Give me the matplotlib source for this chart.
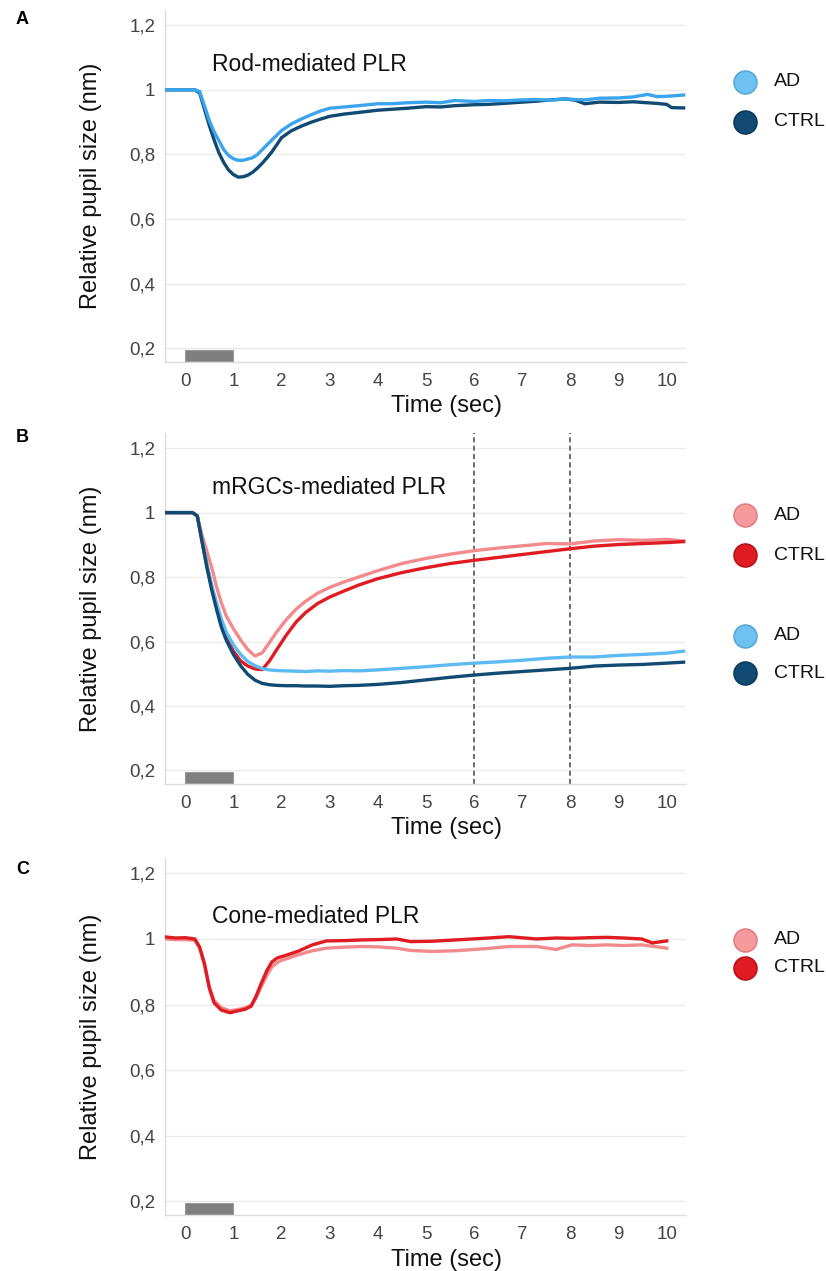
import matplotlib
matplotlib.use("Agg")
import matplotlib.pyplot as plt
from matplotlib.lines import Line2D
from matplotlib.patches import Rectangle

plt.rcParams['font.family'] = ['Liberation Sans', 'DejaVu Sans']

# ---- data ----
# panel A : rod-mediated PLR
t_rod = [-0.4, -0.2, 0.0, 0.2, 0.3, 0.4, 0.5, 0.6, 0.7, 0.8, 0.9, 1.0, 1.1, 1.2, 1.3,
         1.4, 1.5, 1.6, 1.7, 1.8, 2.0, 2.2, 2.4, 2.6, 2.8, 3.0, 3.3, 3.6, 4.0, 4.3,
         4.6, 5.0, 5.3, 5.6, 6.0, 6.3, 6.6, 7.0, 7.3, 7.6, 7.9, 8.1, 8.3, 8.6, 9.0,
         9.3, 9.6, 9.8, 10.0, 10.1, 10.35]
rod_ad = [1.0, 1.0, 1.0, 1.0, 0.995, 0.95, 0.905, 0.87, 0.843, 0.815, 0.797, 0.787, 0.782, 0.782, 0.786,
          0.79, 0.80, 0.815, 0.83, 0.845, 0.874, 0.894, 0.909, 0.922, 0.934, 0.943, 0.947, 0.951, 0.957, 0.957,
          0.96, 0.962, 0.96, 0.967, 0.964, 0.967, 0.966, 0.969, 0.97, 0.968, 0.972, 0.97, 0.969, 0.974, 0.975,
          0.978, 0.986, 0.979, 0.98, 0.981, 0.984]
rod_ctrl = [1.0, 1.0, 1.0, 1.0, 0.99, 0.94, 0.89, 0.845, 0.805, 0.775, 0.752, 0.738, 0.73, 0.731, 0.736,
            0.745, 0.758, 0.773, 0.79, 0.808, 0.852, 0.873, 0.887, 0.899, 0.909, 0.918, 0.925, 0.93, 0.937, 0.94,
            0.943, 0.948, 0.947, 0.951, 0.954, 0.955, 0.958, 0.962, 0.965, 0.969, 0.972, 0.968, 0.957, 0.962, 0.961,
            0.963, 0.96, 0.958, 0.955, 0.945, 0.944]

# panel B : mRGCs-mediated PLR
t_mrgc = [-0.4, -0.2, 0.0, 0.15, 0.25, 0.35, 0.45, 0.55, 0.65, 0.75, 0.85, 1.0, 1.15, 1.3, 1.45,
          1.6, 1.75, 1.9, 2.1, 2.3, 2.5, 2.75, 3.0, 3.3, 3.6, 4.0, 4.5, 5.0, 5.5, 6.0,
          6.5, 7.0, 7.5, 8.0, 8.5, 9.0, 9.5, 10.0, 10.35]
blue_ad = [1.0, 1.0, 1.0, 1.0, 0.99, 0.915, 0.84, 0.775, 0.72, 0.67, 0.63, 0.59, 0.56, 0.538, 0.525,
           0.516, 0.512, 0.51, 0.509, 0.508, 0.507, 0.509, 0.508, 0.51, 0.509, 0.512, 0.517, 0.522, 0.528, 0.533,
           0.537, 0.542, 0.548, 0.552, 0.552, 0.557, 0.56, 0.564, 0.57]
blue_ctrl = [1.0, 1.0, 1.0, 1.0, 0.99, 0.91, 0.83, 0.76, 0.70, 0.645, 0.605, 0.56, 0.525, 0.498, 0.48,
             0.47, 0.466, 0.464, 0.463, 0.463, 0.462, 0.462, 0.461, 0.463, 0.464, 0.467, 0.473, 0.481, 0.489, 0.496,
             0.502, 0.507, 0.512, 0.517, 0.524, 0.527, 0.529, 0.533, 0.536]
red_ad = [1.0, 1.0, 1.0, 1.0, 0.99, 0.93, 0.88, 0.83, 0.77, 0.72, 0.68, 0.64, 0.605, 0.575, 0.555,
          0.565, 0.597, 0.63, 0.668, 0.70, 0.725, 0.75, 0.768, 0.785, 0.80, 0.82, 0.842, 0.858, 0.871, 0.882,
          0.89, 0.897, 0.904, 0.903, 0.912, 0.916, 0.914, 0.917, 0.912]
red_ctrl = [1.0, 1.0, 1.0, 1.0, 0.99, 0.91, 0.835, 0.77, 0.71, 0.655, 0.615, 0.57, 0.54, 0.524, 0.515,
            0.513, 0.54, 0.575, 0.62, 0.66, 0.69, 0.718, 0.738, 0.757, 0.775, 0.795, 0.814, 0.829, 0.842, 0.852,
            0.861, 0.87, 0.879, 0.888, 0.896, 0.901, 0.904, 0.907, 0.91]

# panel C : cone-mediated PLR
t_cone = [-0.4, -0.2, 0.0, 0.2, 0.3, 0.4, 0.5, 0.6, 0.75, 0.93, 1.1, 1.25, 1.37, 1.47, 1.58,
          1.7, 1.8, 1.91, 2.0, 2.13, 2.35, 2.64, 2.93, 3.3, 3.66, 4.0, 4.39, 4.68, 5.12, 5.6,
          6.2, 6.72, 7.3, 7.7, 8.03, 8.4, 8.76, 9.1, 9.48, 9.7, 10.0]
cone_ad = [1.0, 0.998, 0.998, 0.996, 0.972, 0.92, 0.855, 0.812, 0.79, 0.781, 0.785, 0.79, 0.798, 0.82, 0.855,
           0.89, 0.915, 0.928, 0.935, 0.941, 0.952, 0.964, 0.972, 0.975, 0.977, 0.976, 0.972, 0.965, 0.962, 0.964,
           0.97, 0.977, 0.977, 0.968, 0.982, 0.98, 0.982, 0.98, 0.982, 0.978, 0.972]
cone_ctrl = [1.006, 1.003, 1.004, 1.0, 0.975, 0.925, 0.85, 0.805, 0.783, 0.775, 0.781, 0.786, 0.795, 0.825, 0.865,
             0.905, 0.93, 0.942, 0.946, 0.952, 0.963, 0.982, 0.994, 0.995, 0.997, 0.998, 1.0, 0.992, 0.993, 0.997,
             1.002, 1.007, 1.0, 1.003, 1.002, 1.004, 1.005, 1.003, 1.0, 0.988, 0.994]

yticks = [0.2, 0.4, 0.6, 0.8, 1.0, 1.2]
ytick_labels = ['0,2', '0,4', '0,6', '0,8', '1', '1,2']
xticks = list(range(0, 11))
stim = (0, 1)          # light stimulus, seconds
dashed_times = [6, 8]  # panel B markers

# colours
c_lblue = '#3AA5EE'
c_lblue2 = '#5DBAF2'
c_navy = '#114A72'
c_pink = '#F28A8E'
c_red = '#E01B22'
c_leg_lblue = '#6EC1F0'

W, H = 826, 1271
fig = plt.figure(figsize=(W / 100, H / 100), dpi=100)


def make_axes(top_px, bottom_px):
    left, right = 165, 686
    ax = fig.add_axes([left / W, 1 - bottom_px / H, (right - left) / W, (bottom_px - top_px) / H])
    ax.set_xlim(-0.42, 10.4)
    ax.set_ylim(0.158, 1.247)
    ax.set_yticks(yticks)
    ax.set_yticklabels(ytick_labels)
    ax.set_xticks(xticks)
    ax.tick_params(length=0, labelsize=13.5, colors='#444444', pad=7)
    ax.tick_params(axis='x', pad=8)
    for s in ['top', 'right']:
        ax.spines[s].set_visible(False)
    for s in ['left', 'bottom']:
        ax.spines[s].set_color('#dddddd')
        ax.spines[s].set_linewidth(1.0)
    ax.grid(axis='y', color='#ebebeb', linewidth=1.0)
    ax.set_axisbelow(True)
    ax.add_patch(Rectangle((stim[0], 0.16), stim[1] - stim[0], 0.035,
                           facecolor='#7f7f7f', edgecolor='#9a9a9a', linewidth=0.8, zorder=3))
    ax.set_xlabel('Time (sec)', fontsize=17, color='#111111')
    ax.xaxis.set_label_coords(0.54, -0.095)
    ax.set_ylabel('Relative pupil size (nm)', fontsize=17, color='#111111')
    ax.yaxis.set_label_coords(-0.12, 0.5)
    return ax


def legend_entry(x_px, y_px, color, label, edge):
    fig.add_artist(Line2D([x_px / W], [1 - y_px / H], marker='o', markersize=16.5,
                          markerfacecolor=color, markeredgecolor=edge, markeredgewidth=1.2,
                          linestyle='none', transform=fig.transFigure))
    fig.text((x_px + 29) / W, 1 - y_px / H, label, fontsize=14, va='center', ha='left', color='#111111')


lw = 2.4

# A
axA = make_axes(10, 362)
axA.plot(t_rod, rod_ctrl, color=c_navy, lw=lw, zorder=4)
axA.plot(t_rod, rod_ad, color=c_lblue, lw=lw, zorder=4)
axA.text(0.55, 1.078, 'Rod-mediated PLR', fontsize=16.5, va='center', color='#111111')

# B
axB = make_axes(433, 784)
for d in dashed_times:
    axB.axvline(d, color='#555555', linestyle=(0, (3, 2)), linewidth=1.2, zorder=2)
axB.plot(t_mrgc, red_ad, color=c_pink, lw=lw, zorder=4)
axB.plot(t_mrgc, red_ctrl, color=c_red, lw=lw, zorder=4)
axB.plot(t_mrgc, blue_ad, color=c_lblue2, lw=lw, zorder=4)
axB.plot(t_mrgc, blue_ctrl, color=c_navy, lw=lw, zorder=4)
axB.text(0.55, 1.077, 'mRGCs-mediated PLR', fontsize=16.5, va='center', color='#111111')

# C
axC = make_axes(858, 1215)
axC.plot(t_cone, cone_ad, color=c_pink, lw=lw, zorder=4)
axC.plot(t_cone, cone_ctrl, color=c_red, lw=lw, zorder=4)
axC.text(0.55, 1.068, 'Cone-mediated PLR', fontsize=16.5, va='center', color='#111111')

# legends
legend_entry(745, 82, c_leg_lblue, 'AD', '#5aa9d8')
legend_entry(745, 122, c_navy, 'CTRL', '#0c3a5a')
legend_entry(745, 515, '#F4999C', 'AD', '#e08084')
legend_entry(745, 555, c_red, 'CTRL', '#b8141a')
legend_entry(745, 636, c_leg_lblue, 'AD', '#5aa9d8')
legend_entry(745, 673, c_navy, 'CTRL', '#0c3a5a')
legend_entry(745, 940, '#F4999C', 'AD', '#e08084')
legend_entry(745, 968, c_red, 'CTRL', '#b8141a')

# panel letters
for letter, y_px in [('A', 20), ('B', 438), ('C', 870)]:
    fig.text(16 / W, 1 - y_px / H, letter, fontsize=13, fontweight='bold', va='center', ha='left')

fig.savefig('out.png', dpi=100)
